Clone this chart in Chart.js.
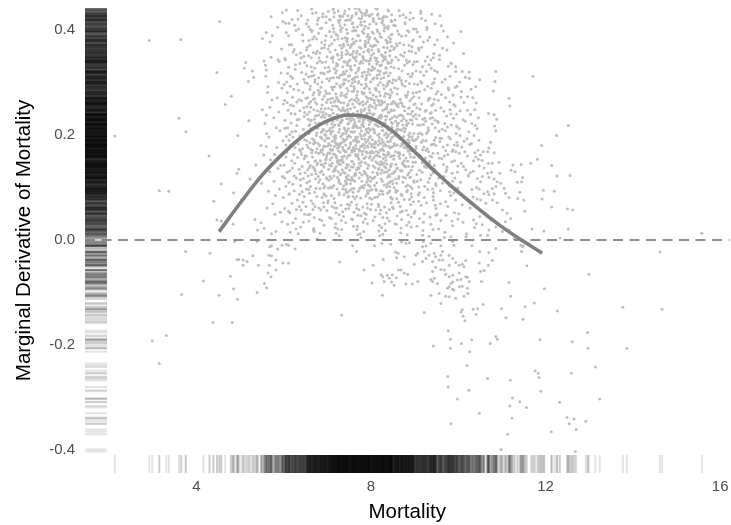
<!DOCTYPE html>
<html>
<head>
<meta charset="utf-8">
<script src="https://cdn.jsdelivr.net/npm/chart.js@4.4.1/dist/chart.umd.min.js"></script>
<style>
html,body{margin:0;padding:0;background:#fff;}
#wrap{width:731px;height:525px;}
</style>
</head>
<body>
<div id="wrap"><canvas id="c" width="731" height="525"></canvas></div>
<script>
// ---- axis settings ----
const mortalityTicks = [4, 8, 12, 16];
const derivTicks = [-0.4, -0.2, 0, 0.2, 0.4];
const xRange = [1.447, 16.213];
const yRange = [-0.4438, 0.4419];
const refY = 0;

// ---- smooth (loess-like) curve ----
const smoothX = [4.52, 5.0, 5.5, 6.0, 6.5, 7.0, 7.5, 8.0, 8.5, 9.0, 9.5, 10.0, 10.5, 11.0, 11.5, 11.92];
const smoothY = [0.016, 0.070, 0.123, 0.166, 0.202, 0.227, 0.238, 0.232, 0.207, 0.168, 0.128, 0.091, 0.057, 0.025, -0.003, -0.025];

// ---- scatter points (mortality, marginal derivative), flat x,y pairs ----
const sparseLeft = [2.92,.380, 3.64,.382, 4.53,.416, 2.13,.198, 3.60,.232, 3.76,.206, 3.15,.094, 3.37,.093, 4.29,.160, 4.47,.319, 4.66,.258, 4.80,.274, 4.95,.199, 5.20,.227, 4.40,.074, 4.57,.107, 4.85,.090, 4.47,.038, 4.57,.036, 4.84,.030, 4.93,.127, 4.97,.135, 5.03,.076, 5.23,.116, 5.13,.338, 5.10,.327, 5.28,.322, 5.31,.310, 5.19,.302, 5.51,.384, 5.60,.395, 5.71,.425, 5.97,.433, 6.06,.438, 5.98,.416, 6.12,.413, 5.55,.341, 5.58,.333, 5.60,.324, 5.64,.292, 5.87,.343, 5.90,.340, 6.03,.346, 5.51,.248, 5.60,.238, 5.68,.253, 5.48,.180, 5.60,.178, 5.54,.162, 5.36,.143, 5.49,.108, 5.34,.039, 5.48,.033, 5.40,.019, 5.55,.022];

const sparseBelow = [3.75,-.022, 3.66,-.104, 4.16,-.078, 4.31,-.025, 2.99,-.192, 3.31,-.182, 3.15,-.235, 4.38,-.157, 4.82,-.157, 4.52,-.105, 4.78,-.069, 4.85,-.093, 4.94,-.113, 4.93,-.037, 4.97,-.037, 5.07,-.038, 5.16,-.041, 5.07,-.048, 5.29,-.030, 5.42,-.048, 5.39,-.100, 5.56,-.083, 5.61,-.091, 5.64,-.063, 5.71,-.070, 5.67,-.048, 5.66,-.029, 5.72,-.030, 5.68,-.013, 5.72,-.011, 5.82,-.038, 5.82,-.057, 5.86,-.017, 5.98,-.044, 6.11,-.044, 5.96,-.010, 6.06,-.008, 6.11,-.010, 6.26,-.017, 5.39,-.003, 4.88,-.003, 7.28,-.042, 7.33,-.143, 7.58,-.011, 7.67,-.022, 7.84,-.057, 8.02,-.082, 8.05,-.048, 8.08,-.011, 8.25,-.006, 8.28,-.037, 8.23,-.066, 8.27,-.070, 8.26,-.105, 8.30,-.079, 8.37,-.067, 8.42,-.073, 8.47,-.080, 8.49,-.066, 8.53,-.086, 8.58,-.072, 8.45,-.008, 8.56,-.023, 8.59,-.034, 8.62,-.025, 8.63,-.057];

const belowCluster = [8.80,-.006, 8.88,-.005, 8.76,-.032, 9.03,-.029, 9.07,-.025, 9.18,-.013, 9.26,-.011, 9.37,-.006, 9.60,-.011, 9.87,-.003, 9.90,-.010, 9.64,-.022, 9.22,-.022, 9.33,-.029, 9.45,-.025, 9.26,-.035, 9.48,-.032, 9.60,-.029, 9.64,-.038, 9.79,-.029, 9.87,-.035, 9.56,-.038, 9.41,-.041, 9.18,-.041, 8.99,-.046, 8.76,-.063, 8.69,-.057, 8.84,-.065, 9.48,-.052, 9.41,-.060, 9.60,-.056, 9.68,-.057, 9.79,-.048, 9.94,-.043, 10.02,-.048, 10.09,-.046, 10.13,-.051, 10.17,-.039, 9.71,-.065, 9.79,-.070, 9.87,-.067, 10.02,-.063, 9.37,-.075, 9.41,-.079, 9.45,-.073, 8.80,-.084, 8.95,-.084, 9.07,-.079, 9.52,-.083, 9.79,-.089, 9.83,-.083, 9.87,-.080, 9.98,-.076, 10.06,-.075, 10.17,-.070, 10.21,-.071, 10.25,-.079, 10.09,-.088, 10.02,-.089, 9.87,-.094, 9.75,-.092, 9.90,-.095, 10.21,-.092, 10.22,-.102, 10.13,-.107, 9.94,-.111, 9.79,-.108, 9.71,-.107, 9.56,-.102, 9.37,-.105, 9.60,-.121, 9.22,-.138, 10.09,-.133, 10.06,-.137, 10.11,-.145, 10.15,-.154, 10.34,-.132, 10.41,-.142, 10.44,-.131, 10.57,-.123, 10.48,-.044, 10.51,-.060, 10.59,-.058, 10.69,-.048, 10.78,-.039, 10.49,-.022, 10.70,-.024, 10.86,-.016, 10.31,-.011, 10.53,-.079];

const tailRight = [11.16,-.081, 11.20,-.107, 10.99,-.131, 11.09,-.148, 11.53,-.127, 11.48,-.151, 11.74,-.120, 11.97,-.093, 11.57,-.049, 11.45,-.022, 11.49,-.011, 12.27,-.135, 12.99,-.065, 14.62,-.023, 13.77,-.128, 14.67,-.132, 13.86,-.206, 12.96,-.176, 12.97,-.206, 12.61,-.194, 11.87,-.190, 13.14,-.242, 12.59,-.254, 13.24,-.303, 12.32,-.309, 11.76,-.249, 11.83,-.254, 11.85,-.262, 11.89,-.288, 11.19,-.267, 11.24,-.301, 11.18,-.316, 11.41,-.308, 11.56,-.319, 11.23,-.339, 11.13,-.370, 10.98,-.399, 12.13,-.365, 12.49,-.338, 12.54,-.350, 12.65,-.341, 12.70,-.361, 12.92,-.345, 12.68,-.403, 9.77,-.173, 9.82,-.189, 9.82,-.206, 9.43,-.202, 10.07,-.197, 10.31,-.190, 10.26,-.213, 10.20,-.239, 9.76,-.260, 9.77,-.280, 10.24,-.286, 9.98,-.303, 10.48,-.330, 9.83,-.350, 10.67,-.264, 10.73,-.197, 10.86,-.184, 10.89,-.189];

const rightCluster = [10.86,.321, 10.84,.302, 10.80,.284, 10.49,.305, 11.71,.312, 11.16,.270, 11.18,.255, 10.69,.241, 10.82,.239, 10.88,.230, 10.83,.217, 10.86,.208, 12.52,.218, 12.25,.199, 11.91,.180, 10.74,.186, 10.70,.175, 10.57,.168, 10.51,.162, 10.67,.168, 10.82,.166, 10.78,.146, 10.69,.146, 10.93,.148, 10.54,.152, 10.59,.137, 10.67,.127, 10.55,.121, 10.51,.111, 10.70,.119, 10.76,.129, 10.82,.116, 10.89,.111, 10.95,.127, 10.97,.108, 10.86,.102, 10.78,.098, 10.67,.092, 10.59,.088, 10.70,.086, 10.82,.088, 10.51,.076, 10.63,.070, 10.78,.076, 10.89,.071, 11.05,.098, 11.08,.089, 11.16,.081, 11.01,.057, 11.12,.051, 11.20,.041, 11.08,.035, 10.59,.051, 10.67,.044, 10.74,.038, 10.55,.029, 10.70,.019, 10.86,.025, 11.01,.016, 11.16,.019, 11.28,.003, 11.43,-.010, 11.47,-.013, 10.51,.009, 10.67,.009, 11.25,.143, 11.30,.130, 11.21,.133, 11.44,.144, 11.66,.146, 11.81,.154, 12.14,.142, 12.26,.122, 12.56,.123, 11.47,.119, 11.35,.110, 11.45,.111, 11.41,.091, 11.50,.076, 11.36,.079, 11.95,.095, 11.92,.078, 12.20,.093, 12.14,.063, 12.50,.059, 12.62,.057, 11.52,.055, 11.69,.021, 11.96,.017, 12.52,.021, 12.33,.004, 15.58,.013, 10.06,.397, 9.75,.387, 9.64,.365, 9.94,.330, 9.83,.337, 10.09,.321, 10.25,.308, 10.40,.292, 10.21,.273, 9.14,.432];

const core55 = [5.62,.061, 5.78,.112, 5.91,.208, 5.70,.153, 5.85,.271, 5.96,.035, 5.74,.389, 5.88,.300, 5.66,.196, 5.93,.142, 5.81,.085, 5.57,.222, 5.99,.259, 5.72,.012, 5.84,.176, 5.95,.364, 5.63,.281, 5.77,.233, 5.90,.097, 5.68,.130, 5.98,.189, 5.80,.049, 5.86,.405, 5.59,.312, 5.75,.069, 5.94,.318, 5.83,.214, 5.71,.348, 5.97,.121, 5.65,.093, 5.89,.244, 5.79,.163, 5.92,.053, 5.61,.203, 5.87,.136, 5.96,.289, 5.73,.267, 5.82,.016, 5.69,.377, 5.99,.081];

const core60 = [6.03,.228, 6.18,.151, 6.34,.402, 6.47,.083, 6.09,.317, 6.27,.041, 6.41,.265, 6.12,.190, 6.38,.126, 6.22,.358, 6.05,.102, 6.45,.211, 6.31,.297, 6.15,.015, 6.26,.240, 6.48,.338, 6.07,.167, 6.36,.064, 6.20,.272, 6.43,.174, 6.11,.389, 6.29,.118, 6.02,.060, 6.40,.427, 6.17,.223, 6.33,.183, 6.24,.094, 6.46,.252, 6.08,.281, 6.37,.336, 6.14,.132, 6.28,.021, 6.42,.140, 6.21,.196, 6.49,.300, 6.04,.343, 6.32,.157, 6.19,.070, 6.44,.379, 6.10,.247, 6.35,.230, 6.25,.409, 6.01,.143, 6.39,.104, 6.16,.312, 6.30,.263, 6.48,.049, 6.06,.197, 6.23,.163, 6.41,.319, 6.13,.088, 6.34,.285, 6.27,.207, 6.45,.117, 6.09,.030, 6.38,.356, 6.20,.137, 6.47,.235, 6.02,.266, 6.31,.076, 6.18,.372, 6.43,.198, 6.12,.110, 6.36,.172, 6.26,.325, 6.05,.181, 6.40,.057, 6.22,.255, 6.49,.160, 6.15,.293, 6.33,.012, 6.08,.129, 6.44,.281, 6.28,.188, 6.19,.420, 6.37,.246, 6.11,.055, 6.46,.350, 6.24,.122, 6.03,.213, 6.42,.092, 6.30,.218, 6.16,.257, 6.35,.135, 6.21,.033, 6.48,.191, 6.07,.301, 6.39,.168, 6.29,.353, 6.14,.201,
  6.06,.395, 6.23,.287, 6.41,.163, 6.14,.052, 6.33,.421, 6.48,.243, 6.02,.118, 6.27,.334, 6.44,.072, 6.19,.206, 6.37,.198, 6.08,.262, 6.46,.306, 6.25,.146, 6.13,.372, 6.39,.025, 6.31,.229, 6.04,.413, 6.21,.106, 6.49,.128, 6.16,.181, 6.35,.267, 6.11,.329, 6.43,.391, 6.29,.058, 6.01,.296, 6.38,.115, 6.24,.363, 6.47,.155, 6.17,.241, 6.32,.437, 6.09,.214, 6.45,.034, 6.26,.176, 6.12,.087, 6.40,.347, 6.20,.308, 6.36,.087, 6.05,.158, 6.28,.399];

const core65 = [6.52,.412, 6.71,.187, 6.88,.301, 6.60,.049, 6.95,.226, 6.77,.360, 6.55,.134, 6.83,.098, 6.67,.276, 6.99,.162, 6.58,.218, 6.74,.433, 6.91,.071, 6.63,.330, 6.86,.195, 6.53,.254, 6.79,.121, 6.97,.389, 6.69,.022, 6.84,.244, 6.56,.176, 6.93,.316, 6.72,.150, 6.61,.401, 6.89,.268, 6.76,.083, 6.98,.207, 6.65,.193, 6.81,.347, 6.54,.298, 6.92,.139, 6.70,.230, 6.87,.037, 6.59,.112, 6.96,.284, 6.78,.418, 6.66,.158, 6.85,.171, 6.51,.064, 6.94,.372, 6.73,.262, 6.62,.212, 6.90,.107, 6.80,.309, 6.57,.351, 6.99,.056, 6.68,.183, 6.82,.222, 6.64,.125, 6.97,.240, 6.75,.199, 6.53,.189, 6.89,.425, 6.71,.091, 6.60,.287, 6.86,.144, 6.94,.201, 6.77,.337, 6.56,.230, 6.83,.013, 6.69,.248, 6.91,.177, 6.58,.380, 6.98,.118, 6.74,.167, 6.63,.075, 6.88,.257, 6.80,.394, 6.52,.160, 6.95,.328, 6.67,.214, 6.84,.129, 6.72,.305, 6.61,.142, 6.93,.086, 6.79,.217, 6.55,.271, 6.87,.365, 6.70,.043, 6.99,.194, 6.65,.321, 6.82,.180, 6.57,.096, 6.90,.238, 6.76,.259, 6.64,.440, 6.96,.153, 6.73,.116, 6.54,.204, 6.85,.291, 6.68,.357, 6.92,.028, 6.78,.146, 6.59,.244, 6.97,.414, 6.81,.061, 6.66,.171, 6.89,.208, 6.62,.264, 6.75,.383, 6.94,.103, 6.51,.316, 6.86,.234, 6.70,.136, 6.98,.279, 6.60,.185, 6.83,.341, 6.77,.002, 6.56,.148, 6.91,.163, 6.73,.223, 6.64,.397, 6.88,.081, 6.79,.285, 6.53,.109, 6.95,.250, 6.69,.314, 6.84,.196, 6.58,.036, 6.99,.349, 6.74,.126, 6.61,.227, 6.87,.404, 6.71,.269, 6.93,.179, 6.67,.058, 6.80,.165,
  6.57,.406, 6.78,.213, 6.93,.366, 6.62,.173, 6.85,.057, 6.71,.327, 6.99,.118, 6.54,.239, 6.88,.193, 6.66,.432, 6.81,.277, 6.59,.089, 6.96,.339, 6.73,.151, 6.52,.362, 6.91,.244, 6.68,.019, 6.84,.403, 6.76,.174, 6.61,.293, 6.98,.262, 6.55,.048, 6.87,.131, 6.70,.387, 6.94,.189, 6.63,.228, 6.80,.110, 6.53,.332, 6.90,.318, 6.75,.237, 6.67,.139, 6.97,.425, 6.58,.203, 6.83,.282, 6.72,.064, 6.95,.146, 6.60,.371, 6.86,.250, 6.69,.191, 6.51,.270, 6.92,.099, 6.77,.411, 6.64,.312, 6.89,.172, 6.56,.122, 6.81,.223, 6.74,.355, 6.99,.307, 6.62,.253, 6.84,.151, 6.70,.016, 6.93,.274, 6.57,.311, 6.79,.184, 6.66,.383, 6.97,.084, 6.53,.181, 6.88,.338, 6.73,.236, 6.61,.102, 6.95,.380, 6.78,.297, 6.55,.419, 6.86,.205, 6.68,.268, 6.91,.125, 6.63,.347, 6.82,.039, 6.75,.216, 6.98,.158, 6.59,.138, 6.90,.431, 6.72,.185, 6.54,.367, 6.85,.318, 6.67,.069, 6.94,.234, 6.76,.143, 6.60,.220, 6.87,.376, 6.71,.301, 6.96,.199, 6.64,.166, 6.80,.423, 6.58,.260, 6.92,.063, 6.77,.246, 6.52,.097, 6.83,.356, 6.69,.281, 6.99,.221, 6.65,.399];

const core70 = [7.02,.435, 7.21,.182, 7.38,.297, 7.11,.064, 7.47,.221, 7.29,.371, 7.05,.143, 7.43,.106, 7.16,.263, 7.34,.158, 7.08,.202, 7.25,.418, 7.49,.083, 7.13,.339, 7.40,.190, 7.03,.251, 7.31,.126, 7.46,.394, 7.19,.031, 7.36,.247, 7.07,.173, 7.44,.322, 7.23,.151, 7.12,.409, 7.39,.275, 7.27,.090, 7.48,.212, 7.15,.197, 7.33,.352, 7.04,.303, 7.42,.137, 7.20,.233, 7.37,.045, 7.09,.117, 7.45,.289, 7.28,.427, 7.17,.163, 7.35,.176, 7.01,.071, 7.44,.380, 7.24,.268, 7.13,.215, 7.41,.112, 7.30,.314, 7.06,.358, 7.49,.060, 7.18,.186, 7.32,.226, 7.14,.131, 7.47,.243, 7.26,.205, 7.03,.194, 7.39,.431, 7.22,.097, 7.10,.291, 7.36,.148, 7.45,.207, 7.27,.344, 7.07,.237, 7.33,.020, 7.19,.255, 7.42,.181, 7.09,.387, 7.48,.123, 7.25,.170, 7.15,.079, 7.38,.261, 7.30,.401, 7.02,.166, 7.46,.333, 7.17,.219, 7.34,.134, 7.23,.310, 7.11,.146, 7.43,.091, 7.29,.224, 7.05,.279, 7.37,.369, 7.20,.052, 7.49,.199, 7.16,.326, 7.32,.185, 7.08,.101, 7.40,.240, 7.26,.264, 7.14,.442, 7.45,.156, 7.23,.119, 7.04,.209, 7.35,.296, 7.18,.362, 7.42,.033, 7.28,.152, 7.10,.248, 7.47,.419, 7.31,.066, 7.16,.178, 7.39,.213, 7.12,.270, 7.24,.389, 7.44,.108, 7.01,.320, 7.36,.238, 7.20,.140, 7.48,.284, 7.11,.188, 7.33,.347, 7.27,.008, 7.06,.153, 7.41,.168, 7.22,.229, 7.14,.403, 7.38,.086, 7.30,.291, 7.03,.114, 7.46,.256, 7.19,.318, 7.34,.201, 7.09,.041, 7.43,.354, 7.25,.130, 7.13,.231, 7.40,.410, 7.21,.272, 7.48,.174, 7.17,.061, 7.29,.167, 7.05,.397, 7.36,.192, 7.44,.278, 7.26,.115, 7.12,.345, 7.32,.246, 7.08,.180, 7.47,.372, 7.18,.133, 7.39,.160, 7.23,.254, 7.02,.075, 7.42,.305, 7.31,.197, 7.15,.425, 7.45,.138, 7.27,.218, 7.07,.269, 7.37,.103, 7.21,.336, 7.49,.230, 7.10,.157, 7.34,.384, 7.24,.021, 7.41,.209, 7.16,.292, 7.30,.144, 7.04,.237, 7.46,.068, 7.19,.199, 7.35,.330, 7.28,.183, 7.13,.439,
  7.07,.419, 7.28,.211, 7.44,.361, 7.12,.172, 7.35,.054, 7.21,.323, 7.49,.115, 7.04,.237, 7.38,.189, 7.16,.433, 7.31,.275, 7.09,.085, 7.46,.337, 7.23,.148, 7.02,.364, 7.41,.246, 7.18,.024, 7.34,.404, 7.26,.177, 7.11,.290, 7.48,.259, 7.05,.043, 7.37,.129, 7.20,.392, 7.44,.192, 7.13,.226, 7.30,.107, 7.03,.329, 7.40,.316, 7.25,.234, 7.17,.136, 7.47,.427, 7.08,.206, 7.33,.280, 7.22,.061, 7.45,.144, 7.10,.374, 7.36,.252, 7.19,.194, 7.01,.267, 7.42,.096, 7.27,.414, 7.14,.309, 7.39,.170, 7.06,.121, 7.31,.224, 7.24,.352, 7.49,.303, 7.12,.255, 7.34,.153, 7.20,.013, 7.43,.272, 7.07,.308, 7.29,.181, 7.16,.381, 7.47,.082, 7.03,.184, 7.38,.340, 7.23,.239, 7.11,.100, 7.45,.378, 7.28,.294, 7.05,.420, 7.36,.203, 7.18,.265, 7.41,.127, 7.13,.349, 7.32,.037, 7.25,.219, 7.48,.161, 7.09,.141, 7.40,.436, 7.22,.183, 7.04,.370, 7.35,.315, 7.17,.071, 7.44,.231, 7.26,.145, 7.10,.221, 7.37,.373, 7.21,.298, 7.46,.197, 7.14,.164, 7.30,.425, 7.08,.262, 7.42,.059, 7.27,.249, 7.02,.099, 7.33,.357, 7.19,.278, 7.49,.223, 7.15,.396, 7.39,.213, 7.06,.165, 7.24,.334, 7.43,.120, 7.12,.286, 7.29,.408, 7.01,.179, 7.46,.249, 7.20,.160, 7.34,.228, 7.09,.346, 7.41,.385, 7.27,.048, 7.15,.122, 7.38,.299, 7.23,.175, 7.05,.322, 7.48,.340, 7.31,.262];

const core75 = [7.52,.419, 7.71,.188, 7.88,.305, 7.61,.053, 7.95,.228, 7.77,.365, 7.55,.139, 7.83,.099, 7.67,.271, 7.99,.165, 7.58,.214, 7.74,.437, 7.91,.069, 7.63,.333, 7.86,.192, 7.53,.250, 7.79,.124, 7.97,.386, 7.69,.026, 7.84,.247, 7.56,.171, 7.93,.320, 7.72,.154, 7.60,.405, 7.89,.273, 7.76,.080, 7.98,.209, 7.65,.196, 7.81,.350, 7.54,.294, 7.92,.136, 7.70,.233, 7.87,.040, 7.59,.115, 7.96,.288, 7.78,.422, 7.66,.160, 7.85,.175, 7.51,.066, 7.94,.376, 7.73,.259, 7.62,.215, 7.90,.110, 7.80,.312, 7.57,.354, 7.99,.058, 7.68,.186, 7.82,.224, 7.64,.127, 7.97,.242, 7.75,.202, 7.53,.185, 7.89,.428, 7.71,.093, 7.60,.284, 7.86,.147, 7.94,.204, 7.77,.340, 7.56,.232, 7.83,.016, 7.69,.245, 7.91,.179, 7.58,.383, 7.98,.120, 7.74,.169, 7.63,.078, 7.88,.260, 7.80,.397, 7.52,.162, 7.95,.325, 7.67,.217, 7.84,.131, 7.72,.302, 7.61,.145, 7.93,.089, 7.79,.219, 7.55,.268, 7.87,.368, 7.70,.047, 7.99,.197, 7.65,.318, 7.82,.182, 7.57,.098, 7.90,.236, 7.76,.261, 7.64,.441, 7.96,.156, 7.73,.118, 7.54,.206, 7.85,.289, 7.68,.360, 7.92,.031, 7.78,.149, 7.59,.241, 7.97,.411, 7.81,.063, 7.66,.174, 7.89,.211, 7.62,.266, 7.75,.380, 7.94,.105, 7.51,.313, 7.86,.231, 7.70,.138, 7.98,.281, 7.60,.189, 7.83,.344, 7.77,.005, 7.56,.150, 7.91,.166, 7.73,.226, 7.64,.400, 7.88,.084, 7.79,.282, 7.53,.107, 7.95,.253, 7.69,.311, 7.84,.199, 7.58,.039, 7.99,.346, 7.74,.128, 7.61,.229, 7.87,.407, 7.71,.267, 7.93,.177, 7.67,.060, 7.80,.163, 7.52,.353, 7.90,.293, 7.63,.191, 7.85,.416, 7.76,.141, 7.55,.072, 7.96,.220, 7.72,.328, 7.59,.173, 7.82,.257, 7.66,.433, 7.94,.143, 7.78,.244, 7.57,.299, 7.88,.158, 7.70,.389, 7.98,.095, 7.62,.206, 7.81,.337, 7.54,.227, 7.92,.264, 7.75,.012, 7.65,.180, 7.86,.371, 7.97,.184, 7.68,.276, 7.83,.216, 7.51,.133, 7.73,.422, 7.89,.049, 7.60,.307, 7.79,.193, 7.95,.358, 7.63,.112, 7.84,.280, 7.71,.239, 7.58,.414, 7.91,.205, 7.77,.101, 7.66,.349, 7.99,.270,
  7.57,.412, 7.78,.208, 7.94,.363, 7.62,.170, 7.85,.051, 7.71,.325, 7.99,.112, 7.54,.235, 7.88,.186, 7.66,.430, 7.81,.279, 7.59,.083, 7.96,.335, 7.73,.146, 7.52,.366, 7.91,.241, 7.68,.020, 7.84,.402, 7.76,.178, 7.61,.292, 7.98,.257, 7.55,.040, 7.87,.127, 7.70,.390, 7.93,.190, 7.63,.224, 7.80,.103, 7.53,.331, 7.90,.314, 7.75,.232, 7.67,.134, 7.97,.426, 7.58,.205, 7.83,.278, 7.72,.058, 7.95,.142, 7.60,.376, 7.86,.250, 7.69,.196, 7.51,.265, 7.92,.094, 7.77,.415, 7.64,.310, 7.89,.168, 7.56,.119, 7.81,.221, 7.74,.354, 7.99,.301, 7.62,.253, 7.84,.155, 7.70,.010, 7.93,.270, 7.57,.306, 7.79,.179, 7.66,.379, 7.97,.080, 7.53,.183, 7.88,.342, 7.73,.237, 7.61,.098, 7.95,.382, 7.78,.296, 7.55,.423, 7.86,.201, 7.68,.263, 7.91,.123, 7.63,.345, 7.82,.034, 7.75,.214, 7.98,.159, 7.59,.139, 7.90,.434, 7.72,.187, 7.54,.369, 7.85,.320, 7.67,.067, 7.94,.229, 7.76,.147, 7.60,.218, 7.87,.374, 7.71,.299, 7.96,.195, 7.64,.163, 7.80,.427, 7.58,.259, 7.92,.061, 7.77,.248, 7.52,.095, 7.83,.358, 7.69,.283, 7.99,.225, 7.65,.398, 7.89,.211, 7.56,.167, 7.74,.336, 7.93,.118, 7.62,.288, 7.79,.409, 7.51,.177, 7.96,.247, 7.70,.158, 7.84,.230, 7.59,.348, 7.91,.387, 7.77,.046, 7.65,.124, 7.88,.297, 7.73,.173, 7.55,.324, 7.98,.342, 7.81,.264, 7.66,.192, 7.94,.404, 7.60,.026, 7.86,.105, 7.72,.440, 7.57,.283];

const core80 = [8.02,.430, 8.21,.184, 8.38,.300, 8.11,.057, 8.47,.224, 8.29,.367, 8.05,.141, 8.43,.102, 8.16,.266, 8.34,.161, 8.08,.205, 8.25,.421, 8.49,.078, 8.13,.335, 8.40,.187, 8.03,.254, 8.31,.129, 8.46,.391, 8.19,.028, 8.36,.250, 8.07,.176, 8.44,.318, 8.23,.148, 8.12,.412, 8.39,.278, 8.27,.087, 8.48,.215, 8.15,.200, 8.33,.349, 8.04,.306, 8.42,.134, 8.20,.236, 8.37,.042, 8.09,.120, 8.45,.286, 8.28,.424, 8.17,.166, 8.35,.179, 8.01,.068, 8.44,.377, 8.24,.265, 8.13,.218, 8.41,.109, 8.30,.317, 8.06,.355, 8.49,.063, 8.18,.189, 8.32,.223, 8.14,.128, 8.47,.246, 8.26,.208, 8.03,.191, 8.39,.438, 8.22,.094, 8.10,.288, 8.36,.145, 8.45,.204, 8.27,.341, 8.07,.240, 8.33,.018, 8.19,.258, 8.42,.178, 8.09,.384, 8.48,.126, 8.25,.173, 8.15,.082, 8.38,.258, 8.30,.398, 8.02,.169, 8.46,.330, 8.17,.216, 8.34,.137, 8.23,.307, 8.11,.149, 8.43,.094, 8.29,.221, 8.05,.276, 8.37,.366, 8.20,.050, 8.49,.196, 8.16,.323, 8.32,.182, 8.08,.104, 8.40,.243, 8.26,.261, 8.14,.440, 8.45,.159, 8.23,.116, 8.04,.212, 8.35,.293, 8.18,.359, 8.42,.036, 8.28,.155, 8.10,.251, 8.47,.416, 8.31,.063, 8.16,.181, 8.39,.210, 8.12,.273, 8.24,.386, 8.44,.111, 8.01,.323, 8.36,.235, 8.20,.143, 8.48,.281, 8.11,.185, 8.33,.344, 8.27,.011, 8.06,.156, 8.41,.165, 8.22,.232, 8.14,.400, 8.38,.089, 8.30,.288, 8.03,.117, 8.46,.259, 8.19,.315, 8.34,.204, 8.09,.044, 8.43,.351, 8.25,.133, 8.13,.228, 8.40,.407, 8.21,.275, 8.48,.177, 8.17,.064, 8.29,.170, 8.05,.394, 8.36,.195, 8.44,.275, 8.26,.112, 8.12,.342, 8.32,.249, 8.08,.183, 8.47,.369, 8.18,.136, 8.39,.163, 8.23,.257, 8.02,.078, 8.42,.302, 8.31,.200, 8.15,.428, 8.45,.140, 8.27,.221, 8.07,.266, 8.37,.106, 8.21,.333, 8.49,.233, 8.10,.160, 8.34,.381, 8.24,.024, 8.41,.212, 8.16,.295, 8.30,.147, 8.04,.240, 8.46,.071, 8.19,.202, 8.35,.327, 8.28,.186,
  8.06,.416, 8.27,.209, 8.43,.360, 8.12,.169, 8.35,.052, 8.21,.321, 8.49,.113, 8.04,.238, 8.38,.187, 8.16,.431, 8.31,.274, 8.09,.081, 8.46,.338, 8.23,.149, 8.02,.362, 8.41,.243, 8.18,.017, 8.34,.405, 8.26,.174, 8.11,.289, 8.48,.260, 8.05,.037, 8.37,.130, 8.20,.393, 8.44,.188, 8.13,.227, 8.30,.105, 8.03,.330, 8.40,.313, 8.25,.235, 8.17,.135, 8.47,.429, 8.08,.204, 8.33,.279, 8.22,.057, 8.45,.143, 8.10,.371, 8.36,.253, 8.19,.195, 8.01,.268, 8.42,.092, 8.27,.417, 8.14,.308, 8.39,.167, 8.06,.118, 8.31,.222, 8.24,.353, 8.49,.299, 8.12,.256, 8.34,.152, 8.20,.008, 8.43,.271, 8.07,.309, 8.29,.180, 8.16,.377, 8.47,.079, 8.03,.182, 8.38,.339, 8.23,.238, 8.11,.097, 8.45,.383, 8.28,.295, 8.05,.422, 8.36,.202, 8.18,.264, 8.41,.124, 8.13,.346, 8.32,.031, 8.25,.216, 8.48,.160, 8.09,.138, 8.40,.436, 8.22,.184, 8.04,.368, 8.35,.319, 8.17,.068, 8.44,.230, 8.26,.144, 8.10,.220, 8.37,.375, 8.21,.300, 8.46,.193, 8.14,.161, 8.30,.426, 8.08,.261, 8.42,.058, 8.27,.247, 8.02,.096, 8.33,.357, 8.19,.282, 8.49,.222, 8.15,.397, 8.39,.212, 8.06,.166, 8.24,.334, 8.43,.121, 8.12,.285, 8.29,.410, 8.01,.178, 8.46,.248, 8.20,.159, 8.34,.229, 8.09,.347, 8.41,.386, 8.27,.043, 8.15,.125, 8.38,.296, 8.23,.172, 8.05,.325, 8.48,.343, 8.31,.263];

const core85 = [8.52,.409, 8.71,.184, 8.88,.298, 8.60,.046, 8.95,.221, 8.77,.357, 8.55,.131, 8.83,.095, 8.67,.268, 8.99,.158, 8.58,.210, 8.74,.429, 8.91,.067, 8.63,.326, 8.86,.190, 8.53,.247, 8.79,.118, 8.97,.381, 8.69,.023, 8.84,.240, 8.56,.168, 8.93,.312, 8.72,.147, 8.61,.398, 8.89,.265, 8.76,.077, 8.98,.203, 8.65,.193, 8.81,.343, 8.54,.290, 8.92,.133, 8.70,.227, 8.87,.034, 8.59,.108, 8.96,.280, 8.78,.414, 8.66,.155, 8.85,.169, 8.51,.060, 8.94,.368, 8.73,.255, 8.62,.211, 8.90,.102, 8.80,.303, 8.57,.348, 8.99,.051, 8.68,.179, 8.82,.218, 8.64,.121, 8.97,.235, 8.75,.197, 8.53,.180, 8.89,.420, 8.71,.085, 8.60,.278, 8.86,.140, 8.94,.197, 8.77,.333, 8.56,.226, 8.83,.010, 8.69,.238, 8.91,.171, 8.58,.374, 8.98,.113, 8.74,.162, 8.63,.072, 8.88,.252, 8.80,.389, 8.52,.154, 8.95,.317, 8.67,.210, 8.84,.124, 8.72,.295, 8.61,.137, 8.93,.082, 8.79,.212, 8.55,.261, 8.87,.360, 8.70,.039, 8.99,.189, 8.65,.310, 8.82,.175, 8.57,.091, 8.90,.229, 8.76,.254, 8.64,.437, 8.96,.148, 8.73,.110, 8.54,.199, 8.85,.282, 8.68,.353, 8.92,.025, 8.78,.141, 8.59,.234, 8.97,.402, 8.81,.056, 8.66,.166, 8.89,.204, 8.62,.259, 8.75,.372, 8.94,.098, 8.51,.305, 8.86,.223, 8.70,.131, 8.98,.273, 8.60,.181, 8.83,.337, 8.57,.144, 8.91,.158, 8.73,.219, 8.64,.392, 8.88,.077, 8.79,.275, 8.53,.100, 8.95,.245, 8.69,.304, 8.84,.191, 8.58,.030, 8.99,.339, 8.74,.120, 8.61,.222, 8.87,.396, 8.71,.260, 8.93,.170, 8.67,.053, 8.80,.156,
  8.56,.408, 8.77,.206, 8.93,.359, 8.62,.166, 8.85,.048, 8.71,.322, 8.99,.110, 8.54,.236, 8.88,.185, 8.66,.427, 8.81,.272, 8.59,.079, 8.96,.334, 8.73,.145, 8.52,.363, 8.91,.240, 8.68,.014, 8.84,.399, 8.76,.176, 8.61,.288, 8.98,.258, 8.55,.031, 8.87,.128, 8.70,.388, 8.94,.191, 8.63,.223, 8.80,.102, 8.53,.328, 8.90,.311, 8.75,.231, 8.67,.133, 8.97,.423, 8.58,.207, 8.83,.276, 8.72,.055, 8.95,.140, 8.60,.370, 8.86,.251, 8.69,.194, 8.51,.264, 8.92,.088, 8.78,.412, 8.64,.307, 8.89,.164, 8.56,.116, 8.81,.220, 8.74,.350, 8.99,.297, 8.62,.254, 8.84,.150, 8.70,-.004, 8.93,.269, 8.57,.304, 8.79,.177, 8.66,.375, 8.97,.073, 8.53,.184, 8.88,.340, 8.73,.236, 8.61,.094, 8.95,.379, 8.78,.293, 8.55,.419, 8.86,.200, 8.68,.262, 8.91,.120, 8.63,.343, 8.82,.028, 8.75,.213, 8.98,.157, 8.59,.136, 8.90,.433, 8.72,.183, 8.54,.366, 8.85,.316, 8.67,.064, 8.94,.228, 8.76,.142, 8.60,.217, 8.87,.371, 8.71,.298, 8.96,.190, 8.64,.160, 8.80,.424, 8.58,.257, 8.92,.044, 8.77,.246];

const core90 = [9.03,.402, 9.21,.177, 9.38,.289, 9.11,.041, 9.47,.214, 9.29,.349, 9.05,.125, 9.43,.090, 9.16,.259, 9.34,.150, 9.08,.196, 9.25,.418, 9.49,.060, 9.13,.320, 9.40,.182, 9.02,.239, 9.31,.110, 9.46,.372, 9.19,.018, 9.36,.232, 9.07,.163, 9.44,.300, 9.23,.139, 9.12,.387, 9.39,.256, 9.27,.071, 9.48,.195, 9.15,.186, 9.33,.334, 9.04,.281, 9.42,.128, 9.20,.220, 9.37,.030, 9.09,.101, 9.45,.268, 9.28,.405, 9.17,.147, 9.35,.160, 9.01,.055, 9.44,.355, 9.24,.245, 9.13,.204, 9.41,.097, 9.30,.293, 9.06,.340, 9.49,.047, 9.18,.172, 9.32,.209, 9.14,.115, 9.47,.228, 9.26,.189, 9.03,.174, 9.39,.430, 9.22,.081, 9.10,.271, 9.36,.136, 9.45,.190, 9.27,.321, 9.07,.219, 9.33,.007, 9.19,.230, 9.42,.165, 9.09,.365, 9.48,.107, 9.25,.156, 9.15,.066, 9.38,.243, 9.30,.380, 9.02,.148, 9.46,.307, 9.17,.201, 9.34,.117, 9.23,.286, 9.11,.133, 9.43,.076, 9.29,.205, 9.05,.252, 9.37,.343, 9.20,.034, 9.49,.180, 9.16,.299, 9.32,.168, 9.08,.086, 9.40,.221, 9.26,.247, 9.14,.436, 9.45,.142, 9.23,.102, 9.04,.192, 9.35,.270, 9.18,.330, 9.42,.020, 9.28,.138, 9.10,.237,
  9.06,.396, 9.27,.203, 9.43,.347, 9.12,.161, 9.35,.044, 9.21,.314, 9.49,.104, 9.04,.231, 9.38,.181, 9.16,.422, 9.31,.266, 9.09,.074, 9.46,.323, 9.23,.141, 9.02,.356, 9.41,.233, 9.18,.009, 9.34,.386, 9.26,.171, 9.11,.283, 9.48,.247, 9.05,.026, 9.37,.124, 9.20,.377, 9.44,.183, 9.13,.219, 9.30,.096, 9.03,.322, 9.40,.297, 9.25,.226, 9.17,.129, 9.47,.412, 9.08,.202, 9.33,.270, 9.22,.050, 9.45,.135, 9.10,.362, 9.36,.241, 9.19,.190, 9.01,.259, 9.42,.083, 9.28,.401, 9.14,.302, 9.39,.158, 9.06,.112, 9.31,.214, 9.24,.341, 9.49,.278, 9.12,.249, 9.34,.146, 9.20,-.003, 9.43,.259, 9.07,.296, 9.29,.174, 9.16,.367, 9.47,.066, 9.03,.178, 9.38,.327, 9.23,.232, 9.11,.090];

const core95 = [9.52,.381, 9.71,.170, 9.88,.276, 9.60,.037, 9.95,.203, 9.77,.331, 9.55,.118, 9.83,.085, 9.67,.245, 9.99,.141, 9.58,.187, 9.74,.362, 9.91,.052, 9.63,.301, 9.86,.169, 9.53,.226, 9.79,.104, 9.97,.293, 9.69,.015, 9.84,.219, 9.56,.156, 9.93,.255, 9.72,.130, 9.61,.408, 9.89,.232, 9.76,.064, 9.98,.180, 9.65,.177, 9.81,.312, 9.54,.266, 9.92,.118, 9.70,.208, 9.87,.027, 9.59,.094, 9.96,.240, 9.78,.286, 9.66,.144, 9.85,.149, 9.51,.049, 9.94,.321, 9.73,.236, 9.62,.194, 9.90,.090, 9.80,.263, 9.57,.344, 9.99,.040, 9.68,.160, 9.82,.193, 9.64,.108, 9.97,.215, 9.75,.181, 9.53,.165, 9.89,.375, 9.71,.073, 9.60,.252, 9.86,.127, 9.94,.168, 9.77,.290, 9.56,.207, 9.83,.006, 9.69,.222, 9.91,.151, 9.58,.427, 9.98,.096, 9.74,.139,
  9.57,.352, 9.78,.196, 9.93,.291, 9.62,.155, 9.85,.036, 9.71,.271, 9.99,.099, 9.54,.224, 9.88,.172, 9.66,.398, 9.81,.248, 9.59,.069, 9.96,.217, 9.73,.134, 9.52,.320, 9.91,.181, 9.68,.005, 9.84,.336, 9.76,.163, 9.61,.277, 9.98,.129, 9.55,.021, 9.87,.112, 9.70,.306, 9.94,.076, 9.63,.211, 9.80,.092, 9.53,.283, 9.90,.258, 9.75,.215, 9.67,.121, 9.97,.186, 9.58,.194, 9.83,.240, 9.72,.047];

const core100 = [10.03,.301, 10.21,.160, 10.38,.248, 10.11,.034, 10.47,.190, 10.29,.287, 10.05,.110, 10.43,.078, 10.16,.226, 10.34,.131, 10.08,.177, 10.25,.320, 10.49,.045, 10.13,.262, 10.40,.158, 10.02,.212, 10.31,.096, 10.46,.233, 10.19,.012, 10.36,.199, 10.07,.146, 10.44,.117, 10.23,.123, 10.12,.355, 10.39,.218, 10.27,.061, 10.48,.141, 10.15,.168, 10.33,.271, 10.04,.246, 10.42,.100, 10.20,.193, 10.37,.024, 10.09,.086, 10.45,.171, 10.28,.239, 10.17,.134, 10.35,.151, 10.01,.050, 10.44,.060, 10.24,.206, 10.13,.188, 10.41,.031, 10.30,.184, 10.06,.272,
  10.07,.283, 10.26,.182, 10.43,.212, 10.12,.140, 10.35,.038, 10.21,.247, 10.48,.097, 10.04,.199, 10.38,.166, 10.16,.310, 10.31,.222, 10.09,.067, 10.46,.154, 10.23,.122, 10.02,.165, 10.41,.261, 10.18,.006, 10.34,.082, 10.27,.128, 10.11,.229];

const peakBand = [6.83,.115, 7.12,.207, 7.46,.091, 7.81,.169, 8.17,.233, 8.52,.128, 8.88,.196, 6.95,.178, 7.29,.124, 7.63,.221, 7.98,.102, 8.34,.158, 8.69,.087, 7.05,.099, 7.38,.187, 7.72,.136, 8.07,.210, 8.43,.175, 8.79,.139, 6.76,.204, 7.21,.156, 7.55,.114, 7.90,.238, 8.26,.093, 8.61,.221, 6.89,.143, 7.33,.229, 7.67,.083, 8.02,.152, 8.38,.120, 8.73,.182, 7.01,.226, 7.43,.168, 7.77,.198, 8.13,.109, 8.48,.213, 8.84,.105, 6.72,.132, 7.16,.191, 7.51,.235, 7.86,.127, 8.21,.171, 8.57,.095, 6.92,.088, 7.26,.110, 7.60,.176, 7.95,.213, 8.31,.140, 8.66,.164, 7.09,.171, 7.42,.203, 7.74,.098, 8.10,.187, 8.45,.082, 8.81,.227, 6.80,.238, 7.18,.133, 7.57,.150, 7.92,.089, 8.28,.218, 8.63,.117, 6.98,.117, 7.35,.097, 7.69,.214, 8.04,.129, 8.40,.199, 8.76,.151, 7.13,.242, 7.48,.143, 7.84,.181, 8.19,.087, 8.55,.180, 6.86,.167, 7.24,.182, 7.62,.123, 7.97,.166, 8.33,.236, 8.70,.209, 7.03,.135, 7.40,.239, 7.79,.112, 8.15,.146, 8.50,.107, 8.86,.171, 6.74,.098, 7.31,.151, 7.65,.190, 8.00,.226, 8.36,.101, 8.71,.132, 7.07,.213, 7.45,.116, 7.82,.229, 8.23,.127, 8.59,.197, 6.91,.211, 7.27,.086, 7.70,.163, 8.09,.176, 8.47,.145, 8.82,.092, 7.15,.104, 7.53,.196, 7.88,.146, 8.25,.191, 8.64,.237, 6.97,.154, 7.36,.172, 7.76,.239, 8.12,.095, 8.53,.161, 8.89,.119, 7.22,.230, 7.59,.091, 7.93,.114, 8.29,.163];

const topBand = [7.25,.436, 7.48,.312, 7.71,.389, 7.94,.341, 8.18,.422, 8.41,.303, 7.33,.365, 7.57,.427, 7.80,.318, 8.03,.396, 8.27,.350, 7.21,.331, 7.44,.401, 7.67,.356, 7.90,.437, 8.14,.314, 8.37,.378, 7.29,.419, 7.52,.343, 7.76,.410, 7.99,.370, 8.22,.332, 8.46,.418, 7.38,.305, 7.61,.374, 7.85,.431, 8.08,.327, 8.31,.404, 7.24,.383, 7.47,.356, 7.70,.322, 7.93,.392, 8.17,.363, 8.40,.336, 7.35,.426, 7.58,.398, 7.82,.347, 8.05,.419, 8.29,.309, 7.27,.309, 7.50,.440, 7.74,.367, 7.97,.315, 8.21,.387, 8.44,.361, 7.40,.339, 7.63,.302, 7.87,.379, 8.11,.441, 8.34,.328, 7.31,.397, 7.55,.372, 7.78,.433, 8.01,.352, 8.25,.414, 8.48,.392, 7.42,.418, 7.66,.341, 7.89,.308, 8.13,.380, 8.36,.425, 7.23,.354, 7.46,.384, 7.69,.406, 7.92,.361, 8.16,.339, 8.39,.402, 7.37,.320, 7.60,.359, 7.83,.394, 8.07,.371, 8.30,.346, 7.53,.326, 7.96,.428];

// ---- build point list ----
function pairs(arr) { const out = []; for (let i = 0; i < arr.length; i += 2) out.push({x: arr[i], y: arr[i + 1]}); return out; }
const allPoints = [sparseLeft, sparseBelow, belowCluster, tailRight, rightCluster, core55, core60, core65, core70, core75, core80, core85, core90, core95, core100, peakBand, topBand].flatMap(pairs);
const smoothPoints = smoothX.map((x, i) => ({x, y: smoothY[i]}));

// ---- style constants ----
const RUG_LEFT = 22, RUG_BOTTOM = 18, RUG_ALPHA = 0.11, RUG_WIDTH = 2;

const rugPlugin = {
  id: 'rug',
  beforeDatasetsDraw(chart) {
    const {ctx, chartArea: {left, right, top, bottom}, scales: {x, y}} = chart;
    ctx.save();
    ctx.beginPath(); ctx.rect(left, top, right - left, bottom - top); ctx.clip();
    ctx.strokeStyle = 'rgba(0,0,0,' + RUG_ALPHA + ')';
    ctx.lineWidth = RUG_WIDTH;
    for (const p of allPoints) {
      const py = y.getPixelForValue(p.y);
      ctx.beginPath(); ctx.moveTo(left, py); ctx.lineTo(left + RUG_LEFT, py); ctx.stroke();
      const px = x.getPixelForValue(p.x);
      ctx.beginPath(); ctx.moveTo(px, bottom - RUG_BOTTOM); ctx.lineTo(px, bottom); ctx.stroke();
    }
    ctx.restore();
  }
};

Chart.defaults.font.family = "'Liberation Sans', Arial, Helvetica, sans-serif";

new Chart(document.getElementById('c'), {
  type: 'scatter',
  data: {
    datasets: [
      {
        type: 'line', label: 'smooth', data: smoothPoints, order: 0,
        borderColor: '#7f7f7f', borderWidth: 3.6, pointRadius: 0, fill: false,
        cubicInterpolationMode: 'monotone', borderCapStyle: 'butt'
      },
      {
        type: 'line', label: 'zero', order: 1,
        data: [{x: xRange[0], y: refY}, {x: xRange[1], y: refY}],
        borderColor: '#6b6b6b', borderWidth: 1.6, borderDash: [10, 6.5], pointRadius: 0, fill: false
      },
      {
        label: 'points', data: allPoints, order: 2,
        backgroundColor: '#bebebe', borderWidth: 0, pointRadius: 1.5, pointHoverRadius: 1.5
      }
    ]
  },
  options: {
    responsive: false,
    animation: false,
    events: [],
    layout: {padding: {top: 8, left: 0, right: 0, bottom: 0}},
    plugins: {legend: {display: false}, tooltip: {enabled: false}},
    scales: {
      x: {
        type: 'linear', min: xRange[0], max: xRange[1],
        grid: {display: false, drawTicks: false}, border: {display: false},
        afterBuildTicks: s => { s.ticks = mortalityTicks.map(v => ({value: v})); },
        afterFit: s => { s.height = 52; s.paddingLeft = 0; s.paddingRight = 0; },
        ticks: {color: '#4d4d4d', font: {size: 15}, padding: 5, maxRotation: 0, autoSkip: false, callback: v => String(v)},
        title: {display: true, text: 'Mortality', color: '#000', font: {size: 20.5}, padding: {top: 0, bottom: 0}}
      },
      y: {
        type: 'linear', min: yRange[0], max: yRange[1],
        grid: {display: false, drawTicks: false}, border: {display: false},
        afterBuildTicks: s => { s.ticks = derivTicks.map(v => ({value: v})); },
        afterFit: s => { s.width = 85; s.paddingTop = 0; s.paddingBottom = 0; },
        ticks: {color: '#4d4d4d', font: {size: 15}, padding: 10, autoSkip: false, callback: v => Number(v).toFixed(1)},
        title: {display: true, text: 'Marginal Derivative of Mortality', color: '#000', font: {size: 20.5}, padding: {top: 11.9, bottom: 0}}
      }
    }
  },
  plugins: [rugPlugin]
});
</script>
</body>
</html>
